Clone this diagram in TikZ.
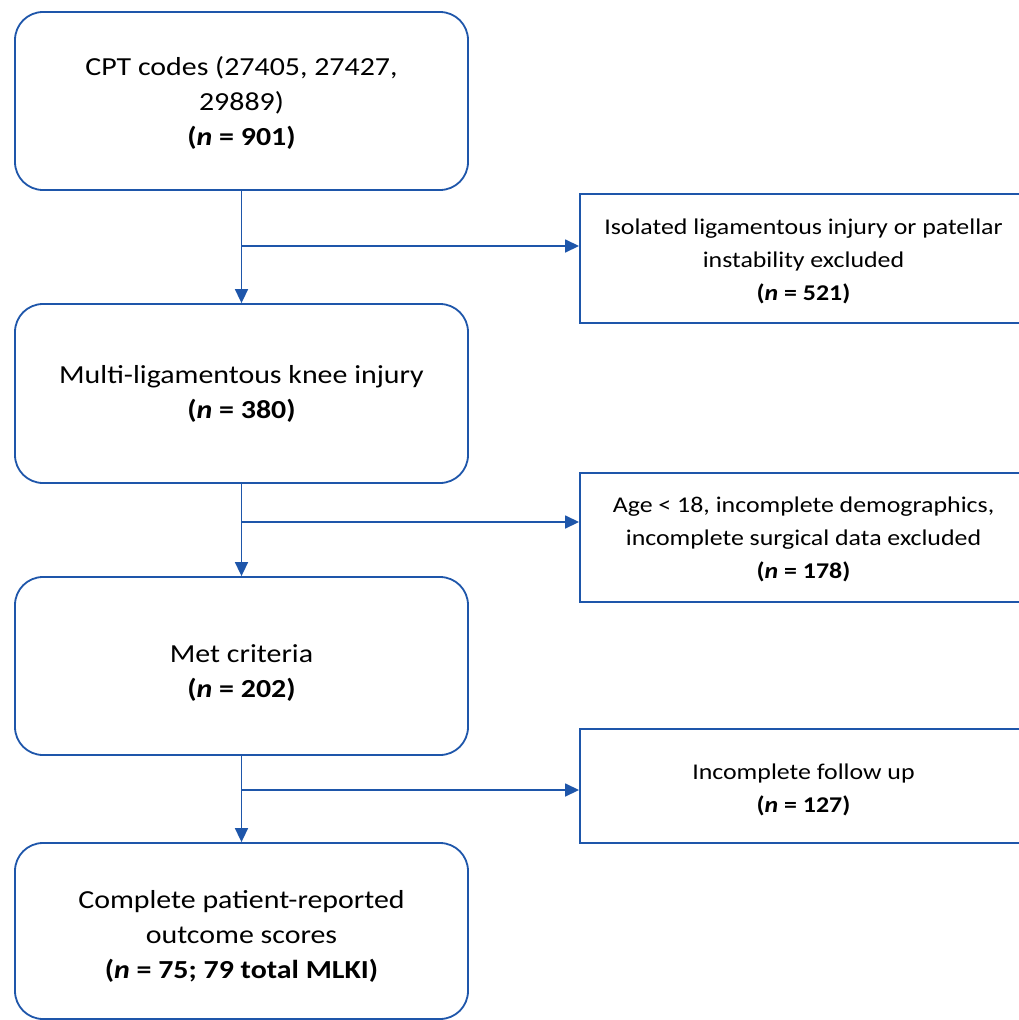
\documentclass[tikz,border=0pt]{standalone}
\usepackage{fontspec}
\setmainfont{Carlito}[FakeStretch=1.15]
\usetikzlibrary{arrows.meta}
\definecolor{lineblue}{RGB}{30,86,170}
\newcommand{\shiftdown}[1]{\rule{0pt}{#1}}
\begin{document}
\begin{tikzpicture}[x=1pt,y=-1pt,
  mainbox/.style={draw=lineblue, line width=1.8pt, rounded corners=28pt,
    minimum width=453pt, minimum height=178pt, align=center, inner sep=0pt,
    font=\fontsize{26}{35}\selectfont},
  sidebox/.style={draw=lineblue, line width=1.9pt,
    minimum width=447pt, align=center, inner sep=0pt,
    font=\fontsize{22.5}{33}\selectfont},
  conn/.style={draw=lineblue, line width=1.6pt},
  arr/.style={conn, -{Triangle[length=14pt,width=13pt]}}]
\useasboundingbox (0,0) rectangle (1019,1020);
\clip (0,0) rectangle (1019,1020);
\fill[white] (0,0) rectangle (1019,1020);

\node[mainbox] (b1) at (241.5,101) {\shiftdown{23pt}CPT codes (27405, 27427,\\29889)\\\textbf{(\textit{n} = 901)}};
\node[mainbox, minimum height=179pt] (b2) at (241.5,393.5) {Multi-ligamentous knee injury\\\textbf{(\textit{n} = 380)}};
\node[mainbox] (b3) at (241.5,666) {\shiftdown{31pt}Met criteria\\\textbf{(\textit{n} = 202)}};
\node[mainbox, minimum height=176pt] (b4) at (241.5,931) {\shiftdown{29pt}Complete patient-reported\\outcome scores\\\textbf{(\textit{n} = 75; 79 total MLKI)}};

\node[sidebox, minimum height=129pt] (r1) at (803.5,258.5) {\shiftdown{21pt}Isolated ligamentous injury or patellar\\instability excluded\\\textbf{(\textit{n} = 521)}};
\node[sidebox, minimum height=129pt] (r2) at (803.5,537.5) {\shiftdown{19pt}Age < 18, incomplete demographics,\\incomplete surgical data excluded\\\textbf{(\textit{n} = 178)}};
\node[sidebox, minimum height=114pt] (r3) at (803.5,786) {\shiftdown{23pt}Incomplete follow up\\\textbf{(\textit{n} = 127)}};

\draw[arr] (b1.south) -- (b2.north);
\draw[arr] (b2.south) -- (b3.north);
\draw[arr] (b3.south) -- (b4.north);

\coordinate (j1) at (241.5,246);
\coordinate (j2) at (241.5,522);
\coordinate (j3) at (241.5,790);
\draw[arr] (j1) -- (j1 -| r1.west);
\draw[arr] (j2) -- (j2 -| r2.west);
\draw[arr] (j3) -- (j3 -| r3.west);
\end{tikzpicture}
\end{document}
